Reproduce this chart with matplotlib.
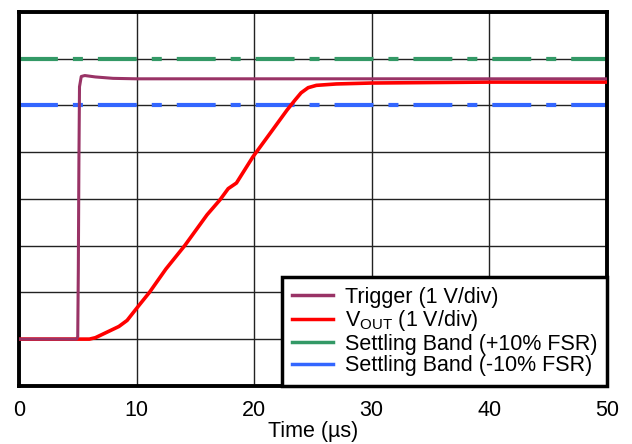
import matplotlib
matplotlib.use('Agg')
import matplotlib.pyplot as plt

plt.rcParams['font.family'] = ['Liberation Sans', 'DejaVu Sans']
plt.rcParams['lines.scale_dashes'] = False

# trigger trace (divisions)
trig_t = [0, 4.9, 5.0, 5.05, 5.1, 5.15, 5.3, 5.6, 6.5, 8, 10, 20, 30, 40, 50]
trig_v = [1.0, 1.0, 1.05, 2.5, 4.8, 6.4, 6.62, 6.64, 6.61, 6.58, 6.57, 6.57, 6.57, 6.57, 6.57]

# output trace (divisions)
vout_t = [0, 6.0, 6.5, 7.5, 8.5, 9.2, 9.7, 10.3, 11.1, 12.5, 14.1, 16.0, 17.1, 17.8, 18.5,
          19.9, 21.5, 22.8, 23.5, 24.0, 24.6, 25.3, 27, 30, 35, 40, 50]
vout_v = [1.0, 1.0, 1.03, 1.15, 1.27, 1.4, 1.56, 1.75, 2.0, 2.5, 3.0, 3.66, 3.98, 4.22, 4.34,
          4.9, 5.45, 5.9, 6.12, 6.27, 6.38, 6.43, 6.46, 6.48, 6.49, 6.5, 6.5]

band_hi = 7.0
band_lo = 6.0

fig = plt.figure(figsize=(6.32, 4.44), dpi=100)
ax = fig.add_axes([0.030, 0.131, 0.930, 0.842])

ax.plot(trig_t, trig_v, color='#993366', lw=2.2, label='Trigger (1 V/div)', zorder=4)
ax.plot(vout_t, vout_v, color='#ff0000', lw=2.6, label='V$_{\\mathregular{OUT}}$ (1 V/div)', zorder=3)
dash = (28, 10.8, 7.2, 10.8)
ax.plot([0, 50], [band_hi, band_hi], color='#339966', lw=3, dashes=dash,
        dash_capstyle='butt', label='Settling Band (+10% FSR)', zorder=2)
ax.plot([0, 50], [band_lo, band_lo], color='#3366ff', lw=3, dashes=dash,
        dash_capstyle='butt', label='Settling Band (-10% FSR)', zorder=2)

ax.set_xlim(0, 50)
ax.set_ylim(0, 8)
ax.set_xticks(range(0, 51, 10))
ax.set_yticks(range(0, 9))
ax.set_yticklabels([])
ax.tick_params(length=0, labelsize=15.5, pad=10)
ax.grid(True, color='#222222', lw=1)
for s in ax.spines.values():
    s.set_linewidth(2.8)
    s.set_color('black')
ax.set_xlabel('Time (µs)', fontsize=15.5, labelpad=0)

leg = ax.legend(loc='lower right', fontsize=15.5, frameon=True, fancybox=False,
                borderaxespad=0, handlelength=1.9, handletextpad=0.55,
                labelspacing=0.02, borderpad=0.45)
leg.get_frame().set_edgecolor('black')
leg.get_frame().set_linewidth(2.5)
leg.get_frame().set_alpha(1)
for l in leg.get_lines():
    l.set_linestyle('-')
    l.set_linewidth(2.5)

fig.savefig('out.png', dpi=100)
